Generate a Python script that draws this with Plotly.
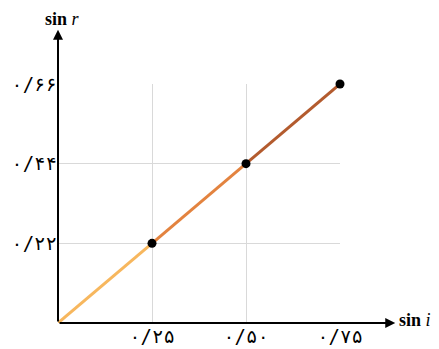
import plotly.graph_objects as go

sin_i = [0, 0.25, 0.5, 0.75]
sin_r = [0, 0.22, 0.44, 0.66]
x_ticks = [0.25, 0.5, 0.75]
x_tick_labels = ["۰/۲۵", "۰/۵۰", "۰/۷۵"]
y_ticks = [0.22, 0.44, 0.66]
y_tick_labels = ["۰/۲۲", "۰/۴۴", "۰/۶۶"]
segment_colors = ["#f7b75e", "#e3833f", "#b35b2e"]

fig = go.Figure()
for k in range(len(sin_i) - 1):
    fig.add_trace(go.Scatter(
        x=sin_i[k:k + 2], y=sin_r[k:k + 2], mode="lines",
        line=dict(color=segment_colors[k], width=3),
        showlegend=False, hoverinfo="skip", cliponaxis=False))
fig.add_trace(go.Scatter(
    x=sin_i[1:], y=sin_r[1:], mode="markers",
    marker=dict(color="black", size=9),
    showlegend=False, cliponaxis=False))

fig.add_annotation(x=0.897, y=0, ax=0, ay=0, xref="x", yref="y",
                   axref="x", ayref="y", text="", showarrow=True,
                   arrowhead=2, arrowsize=1, arrowwidth=2, arrowcolor="black")
fig.add_annotation(x=0, y=0.81, ax=0, ay=0, xref="x", yref="y",
                   axref="x", ayref="y", text="", showarrow=True,
                   arrowhead=2, arrowsize=1, arrowwidth=2, arrowcolor="black")
fig.add_annotation(x=1.2, y=0, xref="paper", yref="paper", xanchor="left",
                   yanchor="middle", xshift=2, yshift=3, showarrow=False,
                   borderpad=0,
                   text="<b>sin</b> <i>i</i>",
                   font=dict(family="Liberation Serif", size=18, color="black"))
fig.add_annotation(x=0, y=1.272, xref="paper", yref="paper", xanchor="center",
                   yanchor="middle", xshift=4, showarrow=False, borderpad=0,
                   text="<b>sin</b> <i>r</i>",
                   font=dict(family="Liberation Serif", size=18, color="black"))

tick_font = dict(family="DejaVu Sans Mono, DejaVu Sans", size=19, color="black")
fig.update_xaxes(range=[0, 0.75], tickvals=x_ticks, ticktext=x_tick_labels,
                 showgrid=True, gridcolor="#d9d9d9", gridwidth=1,
                 zeroline=False, showline=False, ticks="", automargin=False,
                 tickfont=tick_font)
fig.update_yaxes(range=[0, 0.66], tickvals=y_ticks, ticktext=y_tick_labels,
                 showgrid=True, gridcolor="#d9d9d9", gridwidth=1,
                 zeroline=False, showline=False, ticks="", automargin=False,
                 tickfont=tick_font)

fig.update_layout(width=431, height=341,
                  margin=dict(l=50, r=99, t=76, b=26, pad=0),
                  plot_bgcolor="white", paper_bgcolor="white")
fig.write_html("out.html")
